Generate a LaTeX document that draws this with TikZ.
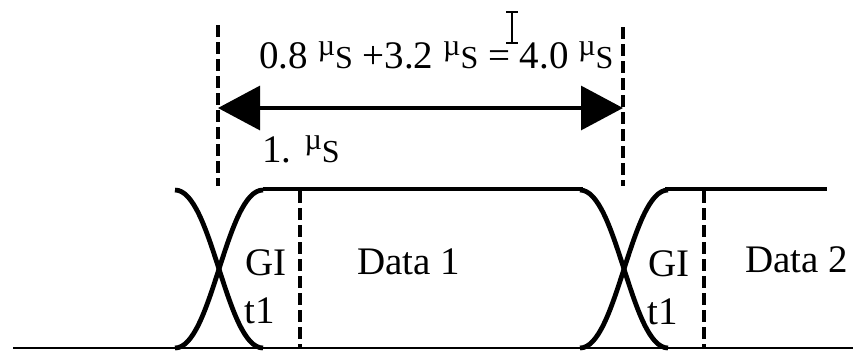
\documentclass[tikz,border=0pt]{standalone}
\usepackage{fontspec}
\setmainfont{Liberation Serif}
\usetikzlibrary{arrows.meta}

\newcommand{\mus}{\raisebox{6.5pt}{\fontsize{15}{15}\selectfont µ}{\fontsize{16}{16}\selectfont S}}

\begin{document}
\begin{tikzpicture}[x=0.5pt, y=-0.5pt,
  lbl/.style={anchor=base west, inner sep=0pt, font=\fontsize{19.5}{21}\selectfont},
  guide/.style={line width=2.4pt, dash pattern=on 6pt off 2.5pt},
  wave/.style={line width=2.4pt},
  level/.style={line width=1.7pt},
  span/.style={{Triangle[length=21pt, width=22pt]}-{Triangle[length=21pt, width=22pt]}, line width=1.6pt}
]
  \useasboundingbox (0,0) rectangle (853,350);

  % symbol boundaries
  \coordinate (ga) at (218,25);   \coordinate (gb) at (218,186);
  \coordinate (gc) at (623,27);   \coordinate (gd) at (623,186);
  \coordinate (sa) at (218,108);  \coordinate (sb) at (623,108);
  \draw[guide] (ga) -- (gb);
  \draw[guide] (gc) -- (gd);
  \draw[span] (sa) -- (sb);

  \node[lbl] (sum) at (259,68) {0.8 \mus{} +3.2 \mus{} = 4.0 \mus};
  \node[lbl] (one) at (262,162) {1. \mus};

  % cursor
  \draw[line width=0.8pt] (512,12) -- (512,43) (506,12) -- (518,12) (506,43) -- (518,43);

  % signal
  \coordinate (la) at (13,348);   \coordinate (lb) at (853,348);
  \draw[line width=1.3pt] (la) -- (lb);
  \draw[wave] (175,190) .. controls (212,190) and (226,348) .. (263,348);
  \draw[wave] (175,348) .. controls (212,348) and (226,190) .. (263,190);
  \draw[level] (263,189) -- (583,189);
  \draw[wave] (580,190) .. controls (617,190) and (631,348) .. (668,348);
  \draw[wave] (580,348) .. controls (617,348) and (631,190) .. (668,190);
  \draw[level] (665,189) -- (827,189);

  \coordinate (ca) at (300,191);  \coordinate (cb) at (300,348);
  \coordinate (cc) at (704,191);  \coordinate (cd) at (704,348);
  \draw[guide] (ca) -- (cb);
  \draw[guide] (cc) -- (cd);

  \node[lbl] (gia) at (245,275) {GI};
  \node[lbl] (tia) at (244,323) {t1};
  \node[lbl] (daa) at (357,274) {Data 1};
  \node[lbl] (gib) at (648,276) {GI};
  \node[lbl] (tib) at (647,324) {t1};
  \node[lbl] (dab) at (745,272) {Data 2};
\end{tikzpicture}
\end{document}
